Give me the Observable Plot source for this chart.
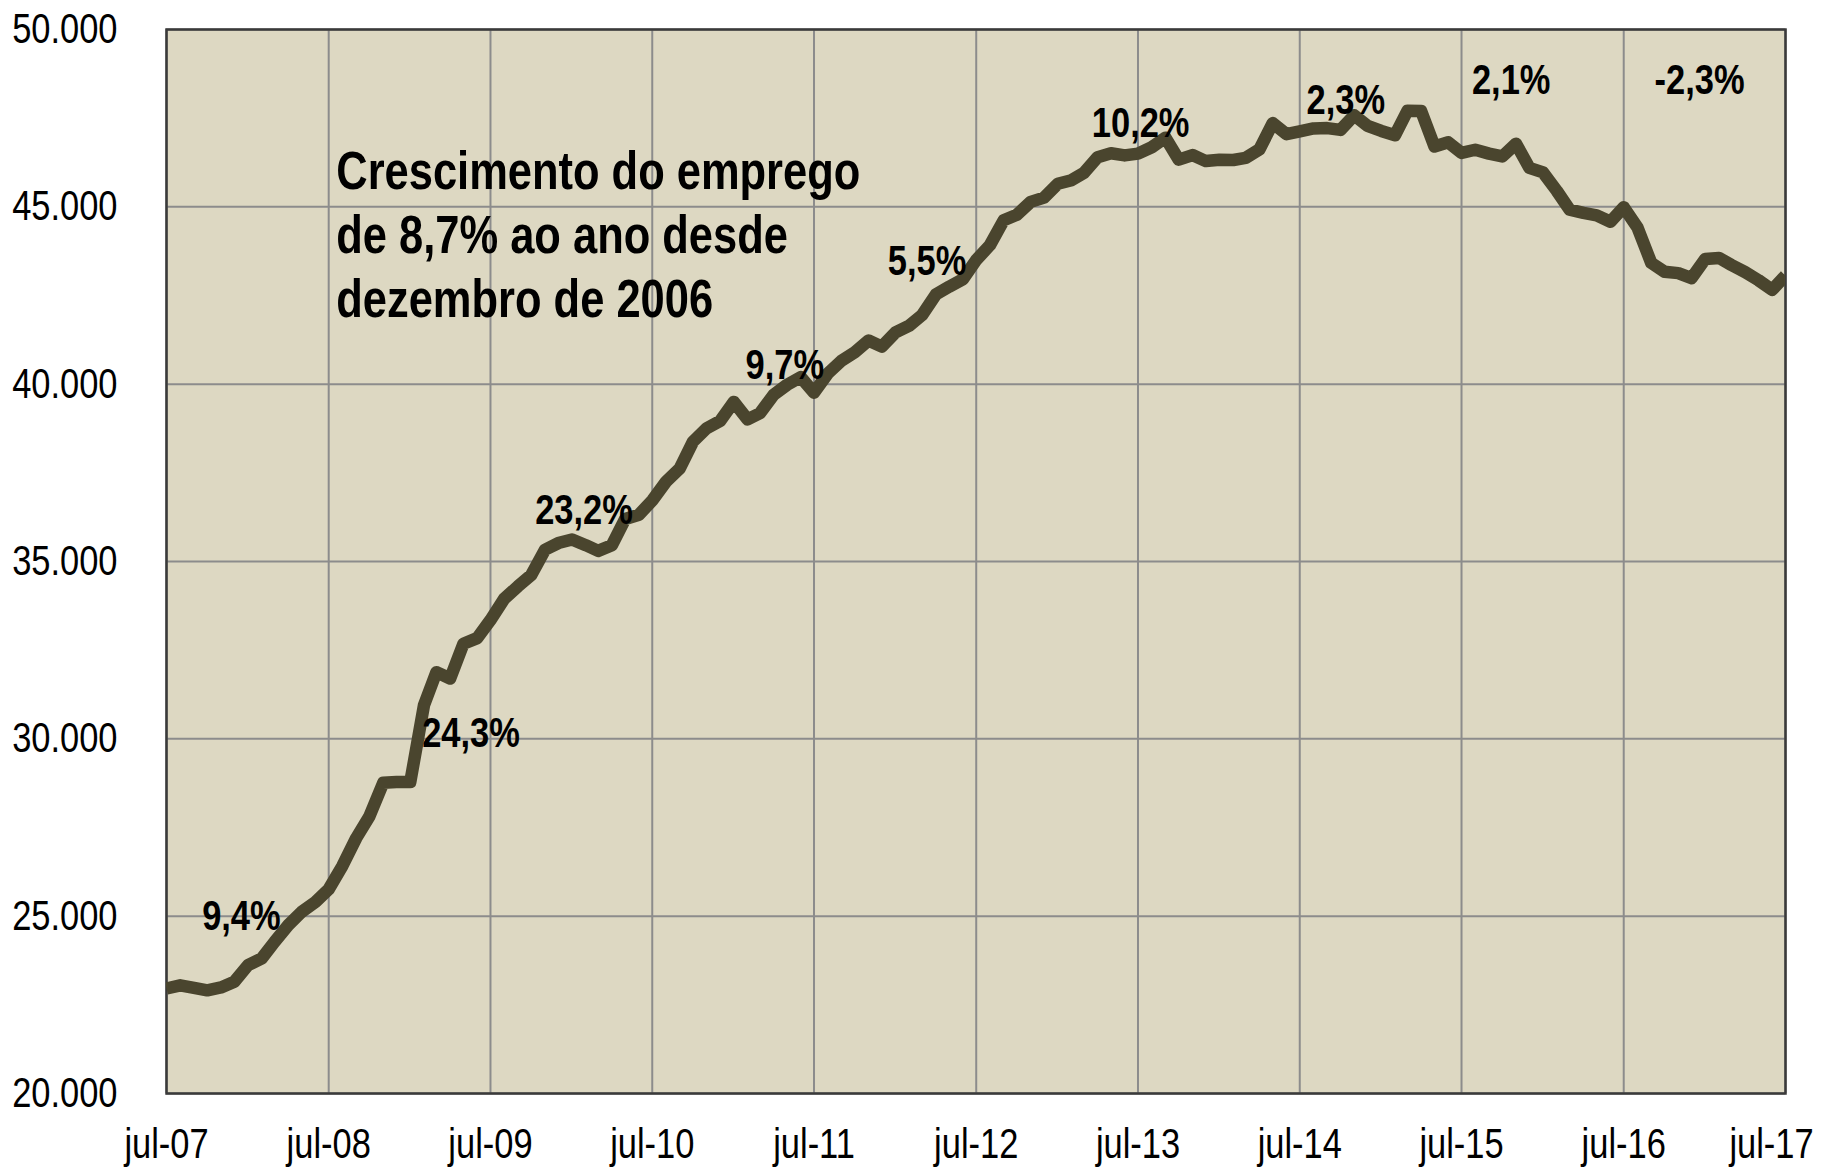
<!DOCTYPE html>
<html>
<head>
<meta charset="utf-8">
<script src="https://cdn.jsdelivr.net/npm/d3@7"></script>
<script src="https://cdn.jsdelivr.net/npm/@observablehq/plot@0.6"></script>
<style>
  html, body { margin: 0; padding: 0; background: #ffffff; }
  #chart svg { display: block; }
</style>
</head>
<body>
<div id="chart"></div>
<script>
// ---- Data (monthly, jul-07 .. jul-17) ----
const startMonth = "2007-07-01";
const endMonth = "2017-07-01";
const employment = [
  22960, 23050, 22980, 22910, 22990, 23150,
  23620, 23810, 24280, 24750, 25120, 25400, 25760, 26420, 27200, 27820, 28760, 28780,
  28780, 30950, 31880, 31700, 32680, 32840, 33350, 33950, 34300, 34620, 35330, 35520,
  35620, 35460, 35300, 35460, 36200, 36320, 36720, 37250, 37620, 38380, 38760, 38960,
  39500, 39010, 39180, 39700, 39980, 40200, 39760, 40300, 40660, 40900, 41230, 41060,
  41460, 41650, 41950, 42530, 42750, 42960, 43500, 43920, 44620, 44780, 45140, 45260,
  45650, 45750, 45960, 46400, 46510, 46450, 46500, 46680, 46950, 46330, 46460, 46290,
  46330, 46320, 46380, 46620, 47360, 47050, 47130, 47210, 47220, 47170, 47580, 47280,
  47140, 47020, 47710, 47700, 46700, 46820, 46520, 46610, 46500, 46420, 46780, 46100,
  45970, 45450, 44920, 44830, 44760, 44580, 44990, 44420, 43420, 43170, 43130, 42990,
  43530, 43560, 43360, 43160, 42930, 42660, 43060
];

const xTickDates = ["2007-07-01","2008-07-01","2009-07-01","2010-07-01","2011-07-01","2012-07-01","2013-07-01","2014-07-01","2015-07-01","2016-07-01","2017-07-01"];
const xTickLabels = ["jul-07","jul-08","jul-09","jul-10","jul-11","jul-12","jul-13","jul-14","jul-15","jul-16","jul-17"];
const yTicks = [20000, 25000, 30000, 35000, 40000, 45000, 50000];

const annoText  = ["9,4%", "24,3%", "23,2%", "9,7%", "5,5%", "10,2%", "2,3%", "2,1%", "-2,3%"];
const annoDate  = ["2007-12-17","2009-05-18","2010-01-28","2011-04-26","2012-03-12","2013-07-07","2014-10-13","2015-10-21","2016-12-19"];
const annoValue = [25000, 30150, 36440, 40530, 43450, 47350, 48000, 48570, 48570];

const noteText = "Crescimento do emprego\nde 8,7% ao ano desde\ndezembro de 2006";
const noteDate = "2008-07-18";
const noteValue = 46780;

// ---- Build tables ----
const months = d3.utcMonth.range(new Date(startMonth), d3.utcMonth.offset(new Date(endMonth), 1));
const series = months.map((d, i) => ({date: d, value: employment[i]}));
const annos = annoText.map((t, i) => ({text: t, date: new Date(annoDate[i]), value: annoValue[i]}));
const xTicks = xTickDates.map(d => new Date(d));
const xLabel = new Map(xTicks.map((d, i) => [+d, xTickLabels[i]]));
const yFmt = v => d3.format(",")(v).replace(/,/g, ".");

const FONT = '"Liberation Sans", Arial, sans-serif';
const NARROW = 0.82; // Arial Narrow width relative to Arial

const chart = Plot.plot({
  width: 1833,
  height: 1167,
  marginLeft: 166,
  marginRight: 48,
  marginTop: 29,
  marginBottom: 74,
  style: {fontFamily: FONT, fontSize: "42px", color: "#000", background: "#ffffff"},
  x: {type: "utc", domain: [new Date(startMonth), new Date(endMonth)], label: null},
  y: {domain: [20000, 50000], label: null},
  marks: [
    Plot.frame({fill: "#ddd8c2", stroke: null}),
    Plot.gridX(xTicks, {stroke: "#8c8c8c", strokeOpacity: 1, strokeWidth: 2}),
    Plot.gridY(yTicks, {stroke: "#8c8c8c", strokeOpacity: 1, strokeWidth: 2}),
    Plot.frame({stroke: "#3a3a3a", strokeWidth: 2.5}),
    Plot.axisX({ticks: xTicks, tickFormat: d => xLabel.get(+d), tickSize: 0, tickPadding: 35, fontSize: 42, fill: "#000"}),
    Plot.axisY({ticks: yTicks, tickFormat: yFmt, tickSize: 0, tickPadding: 49, fontSize: 42, fill: "#000"}),
    Plot.line(series, {x: "date", y: "value", stroke: "#4a452e", strokeWidth: 12.5, strokeLinejoin: "round", strokeLinecap: "butt", clip: true}),
    Plot.text(annos, {x: "date", y: "value", text: "text", fontSize: 42, fontWeight: "bold", fill: "#000", textAnchor: "middle", lineAnchor: "middle"}),
    Plot.text([{date: new Date(noteDate), value: noteValue, text: noteText}], {x: "date", y: "value", text: "text", fontSize: 53, fontWeight: "bold", fill: "#000", textAnchor: "start", lineAnchor: "top", lineHeight: 1.21})
  ]
});
document.getElementById("chart").appendChild(chart);

// Condense glyphs horizontally to mimic a narrow typeface
chart.querySelectorAll("text").forEach(t => {
  const tspans = t.querySelectorAll("tspan");
  const targets = tspans.length ? Array.from(tspans) : [t];
  targets.forEach(el => {
    const w = el.getComputedTextLength();
    if (w > 0) {
      el.setAttribute("textLength", (w * NARROW).toFixed(2));
      el.setAttribute("lengthAdjust", "spacingAndGlyphs");
    }
  });
});

// Keep the last x tick label inside the picture, as in the original
const xAxisTexts = chart.querySelectorAll('g[aria-label="x-axis tick label"] text');
if (xAxisTexts.length) xAxisTexts[xAxisTexts.length - 1].setAttribute("dx", "-14");
</script>
</body>
</html>
